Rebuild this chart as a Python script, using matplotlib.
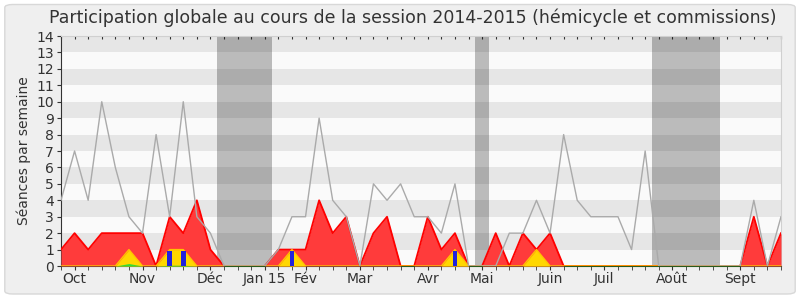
import numpy as np
import matplotlib
matplotlib.use("Agg")
from matplotlib import pyplot as plt
from matplotlib.patches import FancyBboxPatch

# weekly values, session 2014-2015 (54 weeks)
weeks = np.arange(54)
hemicycle_commissions = [1, 2, 1, 2, 2, 2, 2, 0, 3, 2, 4, 1, 0, 0, 0, 0, 1, 1, 1, 4,
                         2, 3, 0, 2, 3, 0, 0, 3, 1, 2, 0, 0, 2, 0, 2, 1, 2, 0, 0, 0,
                         0, 0, 0, 0, 0, 0, 0, 0, 0, 0, 0, 3, 0, 2]
interventions = [0, 0, 0, 0, 0, 1, 0, 0, 1, 1, 0, 0, 0, 0, 0, 0, 0, 1, 0, 0,
                 0, 0, 0, 0, 0, 0, 0, 0, 0, 1, 0, 0, 0, 0, 0, 1, 0, 0, 0, 0,
                 0, 0, 0, 0, 0, 0, 0, 0, 0, 0, 0, 0, 0, 0]
amendements = [0, 0, 0, 0, 0, 0.15, 0, 0, 0.05, 0.05, 0, 0, 0, 0, 0, 0, 0, 0, 0, 0,
               0, 0, 0, 0, 0, 0, 0, 0, 0, 0, 0, 0, 0, 0, 0, 0, 0, 0, 0, 0,
               0, 0, 0, 0, 0, 0, 0, 0, 0, 0, 0, 0, 0, 0]
questions = [0, 0, 0, 0, 0, 0, 0, 0, 0.9, 0.9, 0, 0, 0, 0, 0, 0, 0, 0.9, 0, 0,
             0, 0, 0, 0, 0, 0, 0, 0, 0, 0.9, 0, 0, 0, 0, 0, 0, 0, 0, 0, 0,
             0, 0, 0, 0, 0, 0, 0, 0, 0, 0, 0, 0, 0, 0]
presence_max = [4, 7, 4, 10, 6, 3, 2, 8, 3, 10, 3, 2, 0, 0, 0, 0, 1, 3, 3, 9,
                4, 3, 0, 5, 4, 5, 3, 3, 2, 5, 0, 0, 0, 2, 2, 4, 2, 8, 4, 3,
                3, 3, 1, 7, 0, 0, 0, 0, 0, 0, 0, 4, 0, 3]
vacances = [(11.5, 15.5), (30.5, 31.5), (43.5, 48.5)]
month_pos = [1, 6, 11, 15, 18, 22, 27, 31, 36, 40, 45, 50]
month_labels = ["Oct", "Nov", "Déc", "Jan 15", "Fév", "Mar", "Avr", "Mai",
                "Juin", "Juil", "Août", "Sept"]

plt.rcParams["font.family"] = ["DejaVu Sans"]

fig = plt.figure(figsize=(8, 3), dpi=100, facecolor="white")
frame = FancyBboxPatch((0.006, 0.02), 0.988, 0.965,
                       boxstyle="round,pad=0,rounding_size=0.01",
                       transform=fig.transFigure, facecolor="#efefef",
                       edgecolor="#d8d8d8", linewidth=1, zorder=-10)
fig.patches.append(frame)
ax = fig.add_axes([0.07625, 0.1133, 0.9, 0.7667], zorder=5)
ax.set_facecolor("#fafafa")

# horizontal stripes
for k in range(1, 14, 2):
    ax.axhspan(k, k + 1, color="#e6e6e6", lw=0, zorder=0)

# vacation periods
for a, b in vacances:
    ax.axvspan(a, b, color="black", alpha=0.25, lw=0, zorder=1)

ax.fill_between(weeks, hemicycle_commissions, color="#ff3b3b", lw=0, zorder=3)
ax.plot(weeks, hemicycle_commissions, color="#ff0000", lw=1.3, zorder=3)
ax.fill_between(weeks, interventions, color="#ffd700", lw=0, zorder=4)
ax.plot(weeks, interventions, color="#ffc400", lw=1, zorder=4)
ax.fill_between(weeks, amendements, color="#33dd33", lw=0, zorder=5)
ax.bar(weeks, questions, width=0.35, color="#2222dd", zorder=6)
ax.plot(weeks, presence_max, color="#aaaaaa", lw=1, zorder=7)

ax.set_xlim(0, 53)
ax.set_ylim(0, 14)
ax.set_yticks(range(15))
ax.set_xticks(month_pos)
ax.set_xticklabels(month_labels)
ax.set_xticks(weeks, minor=True)
ax.tick_params(axis="x", which="both", length=3, color="#333333",
               labelsize=10, labelcolor="#333333", pad=1)
ax.tick_params(axis="y", length=3, color="#333333", labelsize=10,
               labelcolor="#333333", pad=2)

# small inner ticks on the top edge
top = ax.secondary_xaxis("top")
top.set_xticks(weeks)
top.tick_params(direction="in", length=2, color="#333333", labeltop=False)
top.spines["top"].set_visible(False)

for s in ["top", "right"]:
    ax.spines[s].set_color("#d0d0d0")
ax.spines["left"].set_color("#333333")
ax.spines["bottom"].set_color("#2a5a1a")

ax.set_ylabel("Séances par semaine", fontsize=10, color="#333333", labelpad=4)
fig.text(0.516, 0.94, "Participation globale au cours de la session 2014-2015 (hémicycle et commissions)",
         ha="center", va="center", fontsize=12.5, color="#333333")

plt.savefig("out.png", dpi=100, facecolor=fig.get_facecolor())
